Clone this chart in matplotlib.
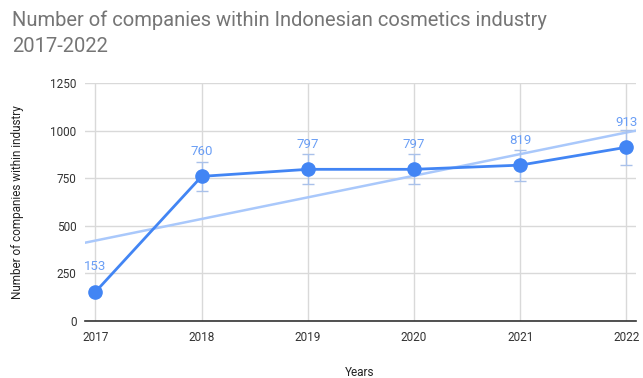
import matplotlib.pyplot as plt
import numpy as np

plt.rcParams['font.family'] = ['Roboto', 'DejaVu Sans']

years = [2017, 2018, 2019, 2020, 2021, 2022]
companies = [153, 760, 797, 797, 819, 913]
y_ticks = [0, 250, 500, 750, 1000, 1250]

line_color = '#4285f4'
label_color = '#6a9ef5'
trend_color = '#a9c8fb'
grid_color = '#d9d9d9'

fig = plt.figure(figsize=(6.43, 3.78), dpi=100)
ax = fig.add_axes([0.132, 0.151, 0.857, 0.629])

x = np.array(years, dtype=float)
y = np.array(companies, dtype=float)

# linear trendline across the full x range
slope, intercept = np.polyfit(x, y, 1)
xlim = (2016.9, 2022.09)
tx = np.array(xlim)
ax.plot(tx, slope * tx + intercept, color=trend_color, lw=1.8, zorder=2)

# error bars at 10% of each value
ax.errorbar(x, y, yerr=y * 0.1, fmt='none', ecolor='#a9c1ea', elinewidth=1,
            capsize=4.3, capthick=1, zorder=3)

ax.plot(x, y, color=line_color, lw=2, marker='o', markersize=9.5, zorder=4)

for xi, yi in zip(years, companies):
    ax.annotate(str(yi), (xi, yi), xytext=(0, 25), textcoords='offset pixels',
                ha='center', va='center', color=label_color, fontsize=9.5, zorder=5)

ax.set_xlim(*xlim)
ax.set_ylim(0, 1250)
ax.set_xticks(years)
ax.set_yticks(y_ticks)
ax.tick_params(axis='both', length=0, labelsize=8.5, labelcolor='#333333')
ax.tick_params(axis='y', pad=6)
ax.tick_params(axis='x', pad=7)
ax.grid(True, color=grid_color, lw=1)
ax.set_axisbelow(True)
for side in ['top', 'right', 'left']:
    ax.spines[side].set_visible(False)
ax.spines['bottom'].set_color('#333333')
ax.spines['bottom'].set_linewidth(1.2)

fig.text(0.56, 1 - 372 / 378, 'Years', fontsize=8.5, color='#222222',
         ha='center', va='center')
fig.text(18 / 643, 0.465, 'Number of companies within industry', fontsize=8.5,
         color='#222222', ha='center', va='center', rotation=90)

fig.text(0.019, 1 - 20 / 378, 'Number of companies within Indonesian cosmetics industry',
         fontsize=14.5, color='#757575', ha='left', va='center')
fig.text(0.019, 1 - 46 / 378, '2017-2022',
         fontsize=14.5, color='#757575', ha='left', va='center')

fig.savefig('out.png', dpi=100)
